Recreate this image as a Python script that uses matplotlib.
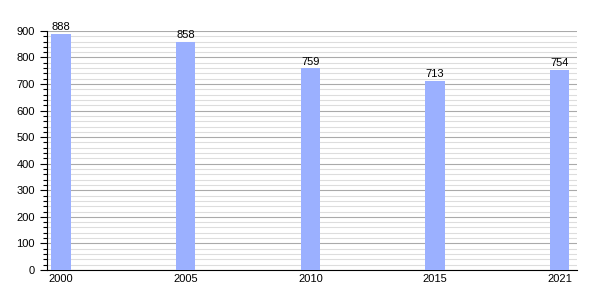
import numpy as np
import matplotlib.pyplot as plt
from matplotlib.ticker import MultipleLocator

plt.rcParams['font.family'] = ['Liberation Sans', 'DejaVu Sans']

years = ['2000', '2005', '2010', '2015', '2021']
population = [888, 858, 759, 713, 754]

bar_color = '#9bb0ff'

fig = plt.figure(figsize=(6, 3), dpi=100)
ax = fig.add_axes([0.078, 0.1, 0.884, 0.797])

x = np.arange(len(years))
ax.bar(x, population, width=0.155, color=bar_color, zorder=3)
for xi, v in zip(x, population):
    ax.text(xi, v + 6, str(v), ha='center', va='bottom', fontsize=8, zorder=4)

ax.set_xlim(-0.115, 4.14)
ax.set_ylim(0, 900)
ax.set_xticks(x)
ax.set_xticklabels(years, fontsize=8)
ax.tick_params(axis='x', length=0, pad=3)

ax.yaxis.set_major_locator(MultipleLocator(100))
ax.yaxis.set_minor_locator(MultipleLocator(20))
ax.tick_params(axis='y', which='major', labelsize=8, length=5, width=0.8)
ax.tick_params(axis='y', which='minor', length=3, width=0.8)

ax.grid(axis='y', which='major', color='#aaaaaa', linewidth=0.8, zorder=0)
ax.grid(axis='y', which='minor', color='#dddddd', linewidth=0.8, zorder=0)

for s in ['top', 'right']:
    ax.spines[s].set_visible(False)
ax.spines['left'].set_linewidth(0.8)
ax.spines['bottom'].set_linewidth(0.8)

fig.savefig('out.png', dpi=100)
